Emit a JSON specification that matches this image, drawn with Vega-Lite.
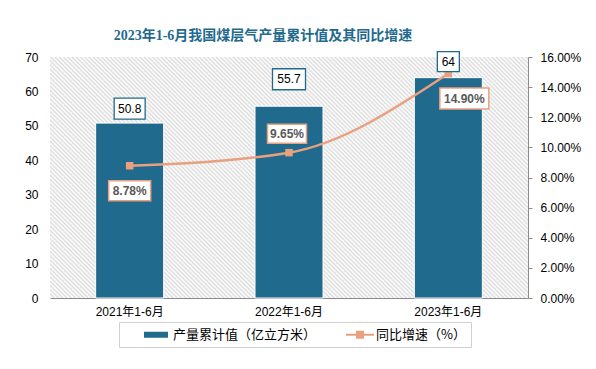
{
  "$schema": "https://vega.github.io/schema/vega-lite/v6.json",
  "width": 478,
  "height": 241,
  "autosize": {"type": "none"},
  "padding": {"left": 50, "top": 57, "right": 68, "bottom": 71},
  "background": "#ffffff",
  "title": {
    "text": "2023年1-6月我国煤层气产量累计值及其同比增速",
    "font": "Liberation Serif, Noto Sans CJK SC",
    "fontSize": 14,
    "fontWeight": "bold",
    "color": "#1F6A8D",
    "anchor": "middle",
    "frame": "group",
    "dx": -26,
    "dy": 21,
    "offset": 16,
    "baseline": "alphabetic"
  },
  "config": {
    "view": {"stroke": null},
    "font": "Liberation Sans, Noto Sans CJK SC",
    "axis": {"labelFont": "Liberation Sans, Noto Sans CJK SC", "labelColor": "#000000", "labelFontSize": 12}
  },
  "data": {
    "values": [
      {"period": "2021年1-6月", "output": 50.8, "growth": 8.78},
      {"period": "2022年1-6月", "output": 55.7, "growth": 9.65},
      {"period": "2023年1-6月", "output": 64, "growth": 14.9}
    ]
  },
  "layer": [
    {
      "transform": [{"filter": "datum.period === '2021年1-6月'"}],
      "mark": {
        "type": "rect",
        "fill": {
          "gradient": "linear",
          "x1": 0, "y1": 1, "x2": 1.415, "y2": 0.2864,
          "stops": [
{"offset":0,"color":"#dcdcdc"},{"offset":0.0025,"color":"#fff"},{"offset":0.005,"color":"#dcdcdc"},{"offset":0.0075,"color":"#fff"},
{"offset":0.01,"color":"#dcdcdc"},{"offset":0.0125,"color":"#fff"},{"offset":0.015,"color":"#dcdcdc"},{"offset":0.0175,"color":"#fff"},
{"offset":0.02,"color":"#dcdcdc"},{"offset":0.0225,"color":"#fff"},{"offset":0.025,"color":"#dcdcdc"},{"offset":0.0275,"color":"#fff"},
{"offset":0.03,"color":"#dcdcdc"},{"offset":0.0325,"color":"#fff"},{"offset":0.035,"color":"#dcdcdc"},{"offset":0.0375,"color":"#fff"},
{"offset":0.04,"color":"#dcdcdc"},{"offset":0.0425,"color":"#fff"},{"offset":0.045,"color":"#dcdcdc"},{"offset":0.0475,"color":"#fff"},
{"offset":0.05,"color":"#dcdcdc"},{"offset":0.0525,"color":"#fff"},{"offset":0.055,"color":"#dcdcdc"},{"offset":0.0575,"color":"#fff"},
{"offset":0.06,"color":"#dcdcdc"},{"offset":0.0625,"color":"#fff"},{"offset":0.065,"color":"#dcdcdc"},{"offset":0.0675,"color":"#fff"},
{"offset":0.07,"color":"#dcdcdc"},{"offset":0.0725,"color":"#fff"},{"offset":0.075,"color":"#dcdcdc"},{"offset":0.0775,"color":"#fff"},
{"offset":0.08,"color":"#dcdcdc"},{"offset":0.0825,"color":"#fff"},{"offset":0.085,"color":"#dcdcdc"},{"offset":0.0875,"color":"#fff"},
{"offset":0.09,"color":"#dcdcdc"},{"offset":0.0925,"color":"#fff"},{"offset":0.095,"color":"#dcdcdc"},{"offset":0.0975,"color":"#fff"},
{"offset":0.1,"color":"#dcdcdc"},{"offset":0.1025,"color":"#fff"},{"offset":0.105,"color":"#dcdcdc"},{"offset":0.1075,"color":"#fff"},
{"offset":0.11,"color":"#dcdcdc"},{"offset":0.1125,"color":"#fff"},{"offset":0.115,"color":"#dcdcdc"},{"offset":0.1175,"color":"#fff"},
{"offset":0.12,"color":"#dcdcdc"},{"offset":0.1225,"color":"#fff"},{"offset":0.125,"color":"#dcdcdc"},{"offset":0.1275,"color":"#fff"},
{"offset":0.13,"color":"#dcdcdc"},{"offset":0.1325,"color":"#fff"},{"offset":0.135,"color":"#dcdcdc"},{"offset":0.1375,"color":"#fff"},
{"offset":0.14,"color":"#dcdcdc"},{"offset":0.1425,"color":"#fff"},{"offset":0.145,"color":"#dcdcdc"},{"offset":0.1475,"color":"#fff"},
{"offset":0.15,"color":"#dcdcdc"},{"offset":0.1525,"color":"#fff"},{"offset":0.155,"color":"#dcdcdc"},{"offset":0.1575,"color":"#fff"},
{"offset":0.16,"color":"#dcdcdc"},{"offset":0.1625,"color":"#fff"},{"offset":0.165,"color":"#dcdcdc"},{"offset":0.1675,"color":"#fff"},
{"offset":0.17,"color":"#dcdcdc"},{"offset":0.1725,"color":"#fff"},{"offset":0.175,"color":"#dcdcdc"},{"offset":0.1775,"color":"#fff"},
{"offset":0.18,"color":"#dcdcdc"},{"offset":0.1825,"color":"#fff"},{"offset":0.185,"color":"#dcdcdc"},{"offset":0.1875,"color":"#fff"},
{"offset":0.19,"color":"#dcdcdc"},{"offset":0.1925,"color":"#fff"},{"offset":0.195,"color":"#dcdcdc"},{"offset":0.1975,"color":"#fff"},
{"offset":0.2,"color":"#dcdcdc"},{"offset":0.2025,"color":"#fff"},{"offset":0.205,"color":"#dcdcdc"},{"offset":0.2075,"color":"#fff"},
{"offset":0.21,"color":"#dcdcdc"},{"offset":0.2125,"color":"#fff"},{"offset":0.215,"color":"#dcdcdc"},{"offset":0.2175,"color":"#fff"},
{"offset":0.22,"color":"#dcdcdc"},{"offset":0.2225,"color":"#fff"},{"offset":0.225,"color":"#dcdcdc"},{"offset":0.2275,"color":"#fff"},
{"offset":0.23,"color":"#dcdcdc"},{"offset":0.2325,"color":"#fff"},{"offset":0.235,"color":"#dcdcdc"},{"offset":0.2375,"color":"#fff"},
{"offset":0.24,"color":"#dcdcdc"},{"offset":0.2425,"color":"#fff"},{"offset":0.245,"color":"#dcdcdc"},{"offset":0.2475,"color":"#fff"},
{"offset":0.25,"color":"#dcdcdc"},{"offset":0.2525,"color":"#fff"},{"offset":0.255,"color":"#dcdcdc"},{"offset":0.2575,"color":"#fff"},
{"offset":0.26,"color":"#dcdcdc"},{"offset":0.2625,"color":"#fff"},{"offset":0.265,"color":"#dcdcdc"},{"offset":0.2675,"color":"#fff"},
{"offset":0.27,"color":"#dcdcdc"},{"offset":0.2725,"color":"#fff"},{"offset":0.275,"color":"#dcdcdc"},{"offset":0.2775,"color":"#fff"},
{"offset":0.28,"color":"#dcdcdc"},{"offset":0.2825,"color":"#fff"},{"offset":0.285,"color":"#dcdcdc"},{"offset":0.2875,"color":"#fff"},
{"offset":0.29,"color":"#dcdcdc"},{"offset":0.2925,"color":"#fff"},{"offset":0.295,"color":"#dcdcdc"},{"offset":0.2975,"color":"#fff"},
{"offset":0.3,"color":"#dcdcdc"},{"offset":0.3025,"color":"#fff"},{"offset":0.305,"color":"#dcdcdc"},{"offset":0.3075,"color":"#fff"},
{"offset":0.31,"color":"#dcdcdc"},{"offset":0.3125,"color":"#fff"},{"offset":0.315,"color":"#dcdcdc"},{"offset":0.3175,"color":"#fff"},
{"offset":0.32,"color":"#dcdcdc"},{"offset":0.3225,"color":"#fff"},{"offset":0.325,"color":"#dcdcdc"},{"offset":0.3275,"color":"#fff"},
{"offset":0.33,"color":"#dcdcdc"},{"offset":0.3325,"color":"#fff"},{"offset":0.335,"color":"#dcdcdc"},{"offset":0.3375,"color":"#fff"},
{"offset":0.34,"color":"#dcdcdc"},{"offset":0.3425,"color":"#fff"},{"offset":0.345,"color":"#dcdcdc"},{"offset":0.3475,"color":"#fff"},
{"offset":0.35,"color":"#dcdcdc"},{"offset":0.3525,"color":"#fff"},{"offset":0.355,"color":"#dcdcdc"},{"offset":0.3575,"color":"#fff"},
{"offset":0.36,"color":"#dcdcdc"},{"offset":0.3625,"color":"#fff"},{"offset":0.365,"color":"#dcdcdc"},{"offset":0.3675,"color":"#fff"},
{"offset":0.37,"color":"#dcdcdc"},{"offset":0.3725,"color":"#fff"},{"offset":0.375,"color":"#dcdcdc"},{"offset":0.3775,"color":"#fff"},
{"offset":0.38,"color":"#dcdcdc"},{"offset":0.3825,"color":"#fff"},{"offset":0.385,"color":"#dcdcdc"},{"offset":0.3875,"color":"#fff"},
{"offset":0.39,"color":"#dcdcdc"},{"offset":0.3925,"color":"#fff"},{"offset":0.395,"color":"#dcdcdc"},{"offset":0.3975,"color":"#fff"},
{"offset":0.4,"color":"#dcdcdc"},{"offset":0.4025,"color":"#fff"},{"offset":0.405,"color":"#dcdcdc"},{"offset":0.4075,"color":"#fff"},
{"offset":0.41,"color":"#dcdcdc"},{"offset":0.4125,"color":"#fff"},{"offset":0.415,"color":"#dcdcdc"},{"offset":0.4175,"color":"#fff"},
{"offset":0.42,"color":"#dcdcdc"},{"offset":0.4225,"color":"#fff"},{"offset":0.425,"color":"#dcdcdc"},{"offset":0.4275,"color":"#fff"},
{"offset":0.43,"color":"#dcdcdc"},{"offset":0.4325,"color":"#fff"},{"offset":0.435,"color":"#dcdcdc"},{"offset":0.4375,"color":"#fff"},
{"offset":0.44,"color":"#dcdcdc"},{"offset":0.4425,"color":"#fff"},{"offset":0.445,"color":"#dcdcdc"},{"offset":0.4475,"color":"#fff"},
{"offset":0.45,"color":"#dcdcdc"},{"offset":0.4525,"color":"#fff"},{"offset":0.455,"color":"#dcdcdc"},{"offset":0.4575,"color":"#fff"},
{"offset":0.46,"color":"#dcdcdc"},{"offset":0.4625,"color":"#fff"},{"offset":0.465,"color":"#dcdcdc"},{"offset":0.4675,"color":"#fff"},
{"offset":0.47,"color":"#dcdcdc"},{"offset":0.4725,"color":"#fff"},{"offset":0.475,"color":"#dcdcdc"},{"offset":0.4775,"color":"#fff"},
{"offset":0.48,"color":"#dcdcdc"},{"offset":0.4825,"color":"#fff"},{"offset":0.485,"color":"#dcdcdc"},{"offset":0.4875,"color":"#fff"},
{"offset":0.49,"color":"#dcdcdc"},{"offset":0.4925,"color":"#fff"},{"offset":0.495,"color":"#dcdcdc"},{"offset":0.4975,"color":"#fff"},
{"offset":0.5,"color":"#dcdcdc"},{"offset":0.5025,"color":"#fff"},{"offset":0.505,"color":"#dcdcdc"},{"offset":0.5075,"color":"#fff"},
{"offset":0.51,"color":"#dcdcdc"},{"offset":0.5125,"color":"#fff"},{"offset":0.515,"color":"#dcdcdc"},{"offset":0.5175,"color":"#fff"},
{"offset":0.52,"color":"#dcdcdc"},{"offset":0.5225,"color":"#fff"},{"offset":0.525,"color":"#dcdcdc"},{"offset":0.5275,"color":"#fff"},
{"offset":0.53,"color":"#dcdcdc"},{"offset":0.5325,"color":"#fff"},{"offset":0.535,"color":"#dcdcdc"},{"offset":0.5375,"color":"#fff"},
{"offset":0.54,"color":"#dcdcdc"},{"offset":0.5425,"color":"#fff"},{"offset":0.545,"color":"#dcdcdc"},{"offset":0.5475,"color":"#fff"},
{"offset":0.55,"color":"#dcdcdc"},{"offset":0.5525,"color":"#fff"},{"offset":0.555,"color":"#dcdcdc"},{"offset":0.5575,"color":"#fff"},
{"offset":0.56,"color":"#dcdcdc"},{"offset":0.5625,"color":"#fff"},{"offset":0.565,"color":"#dcdcdc"},{"offset":0.5675,"color":"#fff"},
{"offset":0.57,"color":"#dcdcdc"},{"offset":0.5725,"color":"#fff"},{"offset":0.575,"color":"#dcdcdc"},{"offset":0.5775,"color":"#fff"},
{"offset":0.58,"color":"#dcdcdc"},{"offset":0.5825,"color":"#fff"},{"offset":0.585,"color":"#dcdcdc"},{"offset":0.5875,"color":"#fff"},
{"offset":0.59,"color":"#dcdcdc"},{"offset":0.5925,"color":"#fff"},{"offset":0.595,"color":"#dcdcdc"},{"offset":0.5975,"color":"#fff"},
{"offset":0.6,"color":"#dcdcdc"},{"offset":0.6025,"color":"#fff"},{"offset":0.605,"color":"#dcdcdc"},{"offset":0.6075,"color":"#fff"},
{"offset":0.61,"color":"#dcdcdc"},{"offset":0.6125,"color":"#fff"},{"offset":0.615,"color":"#dcdcdc"},{"offset":0.6175,"color":"#fff"},
{"offset":0.62,"color":"#dcdcdc"},{"offset":0.6225,"color":"#fff"},{"offset":0.625,"color":"#dcdcdc"},{"offset":0.6275,"color":"#fff"},
{"offset":0.63,"color":"#dcdcdc"},{"offset":0.6325,"color":"#fff"},{"offset":0.635,"color":"#dcdcdc"},{"offset":0.6375,"color":"#fff"},
{"offset":0.64,"color":"#dcdcdc"},{"offset":0.6425,"color":"#fff"},{"offset":0.645,"color":"#dcdcdc"},{"offset":0.6475,"color":"#fff"},
{"offset":0.65,"color":"#dcdcdc"},{"offset":0.6525,"color":"#fff"},{"offset":0.655,"color":"#dcdcdc"},{"offset":0.6575,"color":"#fff"},
{"offset":0.66,"color":"#dcdcdc"},{"offset":0.6625,"color":"#fff"},{"offset":0.665,"color":"#dcdcdc"},{"offset":0.6675,"color":"#fff"},
{"offset":0.67,"color":"#dcdcdc"},{"offset":0.6725,"color":"#fff"},{"offset":0.675,"color":"#dcdcdc"},{"offset":0.6775,"color":"#fff"},
{"offset":0.68,"color":"#dcdcdc"},{"offset":0.6825,"color":"#fff"},{"offset":0.685,"color":"#dcdcdc"},{"offset":0.6875,"color":"#fff"},
{"offset":0.69,"color":"#dcdcdc"},{"offset":0.6925,"color":"#fff"},{"offset":0.695,"color":"#dcdcdc"},{"offset":0.6975,"color":"#fff"},
{"offset":0.7,"color":"#dcdcdc"},{"offset":0.7025,"color":"#fff"},{"offset":0.705,"color":"#dcdcdc"},{"offset":0.7075,"color":"#fff"},
{"offset":0.71,"color":"#dcdcdc"},{"offset":0.7125,"color":"#fff"},{"offset":0.715,"color":"#dcdcdc"},{"offset":0.7175,"color":"#fff"},
{"offset":0.72,"color":"#dcdcdc"},{"offset":0.7225,"color":"#fff"},{"offset":0.725,"color":"#dcdcdc"},{"offset":0.7275,"color":"#fff"},
{"offset":0.73,"color":"#dcdcdc"},{"offset":0.7325,"color":"#fff"},{"offset":0.735,"color":"#dcdcdc"},{"offset":0.7375,"color":"#fff"},
{"offset":0.74,"color":"#dcdcdc"},{"offset":0.7425,"color":"#fff"},{"offset":0.745,"color":"#dcdcdc"},{"offset":0.7475,"color":"#fff"},
{"offset":0.75,"color":"#dcdcdc"},{"offset":0.7525,"color":"#fff"},{"offset":0.755,"color":"#dcdcdc"},{"offset":0.7575,"color":"#fff"},
{"offset":0.76,"color":"#dcdcdc"},{"offset":0.7625,"color":"#fff"},{"offset":0.765,"color":"#dcdcdc"},{"offset":0.7675,"color":"#fff"},
{"offset":0.77,"color":"#dcdcdc"},{"offset":0.7725,"color":"#fff"},{"offset":0.775,"color":"#dcdcdc"},{"offset":0.7775,"color":"#fff"},
{"offset":0.78,"color":"#dcdcdc"},{"offset":0.7825,"color":"#fff"},{"offset":0.785,"color":"#dcdcdc"},{"offset":0.7875,"color":"#fff"},
{"offset":0.79,"color":"#dcdcdc"},{"offset":0.7925,"color":"#fff"},{"offset":0.795,"color":"#dcdcdc"},{"offset":0.7975,"color":"#fff"},
{"offset":0.8,"color":"#dcdcdc"},{"offset":0.8025,"color":"#fff"},{"offset":0.805,"color":"#dcdcdc"},{"offset":0.8075,"color":"#fff"},
{"offset":0.81,"color":"#dcdcdc"},{"offset":0.8125,"color":"#fff"},{"offset":0.815,"color":"#dcdcdc"},{"offset":0.8175,"color":"#fff"},
{"offset":0.82,"color":"#dcdcdc"},{"offset":0.8225,"color":"#fff"},{"offset":0.825,"color":"#dcdcdc"},{"offset":0.8275,"color":"#fff"},
{"offset":0.83,"color":"#dcdcdc"},{"offset":0.8325,"color":"#fff"},{"offset":0.835,"color":"#dcdcdc"},{"offset":0.8375,"color":"#fff"},
{"offset":0.84,"color":"#dcdcdc"},{"offset":0.8425,"color":"#fff"},{"offset":0.845,"color":"#dcdcdc"},{"offset":0.8475,"color":"#fff"},
{"offset":0.85,"color":"#dcdcdc"},{"offset":0.8525,"color":"#fff"},{"offset":0.855,"color":"#dcdcdc"},{"offset":0.8575,"color":"#fff"},
{"offset":0.86,"color":"#dcdcdc"},{"offset":0.8625,"color":"#fff"},{"offset":0.865,"color":"#dcdcdc"},{"offset":0.8675,"color":"#fff"},
{"offset":0.87,"color":"#dcdcdc"},{"offset":0.8725,"color":"#fff"},{"offset":0.875,"color":"#dcdcdc"},{"offset":0.8775,"color":"#fff"},
{"offset":0.88,"color":"#dcdcdc"},{"offset":0.8825,"color":"#fff"},{"offset":0.885,"color":"#dcdcdc"},{"offset":0.8875,"color":"#fff"},
{"offset":0.89,"color":"#dcdcdc"},{"offset":0.8925,"color":"#fff"},{"offset":0.895,"color":"#dcdcdc"},{"offset":0.8975,"color":"#fff"},
{"offset":0.9,"color":"#dcdcdc"},{"offset":0.9025,"color":"#fff"},{"offset":0.905,"color":"#dcdcdc"},{"offset":0.9075,"color":"#fff"},
{"offset":0.91,"color":"#dcdcdc"},{"offset":0.9125,"color":"#fff"},{"offset":0.915,"color":"#dcdcdc"},{"offset":0.9175,"color":"#fff"},
{"offset":0.92,"color":"#dcdcdc"},{"offset":0.9225,"color":"#fff"},{"offset":0.925,"color":"#dcdcdc"},{"offset":0.9275,"color":"#fff"},
{"offset":0.93,"color":"#dcdcdc"},{"offset":0.9325,"color":"#fff"},{"offset":0.935,"color":"#dcdcdc"},{"offset":0.9375,"color":"#fff"},
{"offset":0.94,"color":"#dcdcdc"},{"offset":0.9425,"color":"#fff"},{"offset":0.945,"color":"#dcdcdc"},{"offset":0.9475,"color":"#fff"},
{"offset":0.95,"color":"#dcdcdc"},{"offset":0.9525,"color":"#fff"},{"offset":0.955,"color":"#dcdcdc"},{"offset":0.9575,"color":"#fff"},
{"offset":0.96,"color":"#dcdcdc"},{"offset":0.9625,"color":"#fff"},{"offset":0.965,"color":"#dcdcdc"},{"offset":0.9675,"color":"#fff"},
{"offset":0.97,"color":"#dcdcdc"},{"offset":0.9725,"color":"#fff"},{"offset":0.975,"color":"#dcdcdc"},{"offset":0.9775,"color":"#fff"},
{"offset":0.98,"color":"#dcdcdc"},{"offset":0.9825,"color":"#fff"},{"offset":0.985,"color":"#dcdcdc"},{"offset":0.9875,"color":"#fff"},
{"offset":0.99,"color":"#dcdcdc"},{"offset":0.9925,"color":"#fff"},{"offset":0.995,"color":"#dcdcdc"},{"offset":0.9975,"color":"#fff"},
{"offset":1,"color":"#dcdcdc"}
          ]
        }
      },
      "encoding": {}
    },
    {
      "mark": {"type": "bar", "size": 68, "stroke": "#ffffff", "strokeWidth": 1},
      "encoding": {
        "x": {"field": "period", "type": "nominal", "sort": null, "title": null,
              "scale": {"paddingInner": 0, "paddingOuter": 0},
              "axis": {"labelAngle": 0, "ticks": false, "tickSize": 0, "labelPadding": 8, "domainColor": "#8C8C8C", "domainWidth": 1}},
        "y": {"field": "output", "type": "quantitative", "title": null,
              "scale": {"domain": [0, 70]},
              "axis": {"values": [0, 10, 20, 30, 40, 50, 60, 70], "grid": false, "domain": false, "ticks": false, "tickSize": 0, "labelPadding": 12}},
        "color": {
          "datum": "产量累计值（亿立方米）",
          "scale": {"domain": ["产量累计值（亿立方米）", "同比增速（%）"], "range": ["#1F6A8D", "#E9A07F"]},
          "legend": {
            "title": null,
            "orient": "none",
            "legendX": 69,
            "legendY": 265,
            "direction": "horizontal",
            "padding": 5,
            "strokeColor": "#D0D0D0",
            "fillColor": "#ffffff",
            "symbolSize": 225,
            "symbolType": {"expr": "datum.value === '同比增速（%）' ? 'M1.53,-0.14H5.27V0.14H1.53Z M2.87,-0.53H3.93V0.53H2.87Z' : 'M1.67,-0.4H4.87V0.4H1.67Z'"},
            "symbolStrokeWidth": 0,
            "symbolOpacity": 1,
            "labelOffset": 34,
            "columnPadding": 10,
            "labelFontSize": 13,
            "labelFont": "Noto Sans CJK SC",
            "labelColor": "#000000",
            "encode": {
              "symbols": {
                "update": {
                  "shape": {"signal": "datum.value === '同比增速（%）' ? 'M1.53,-0.14H5.27V0.14H1.53Z M2.87,-0.53H3.93V0.53H2.87Z' : 'M1.67,-0.4H4.87V0.4H1.67Z'"},
                  "fill": {"signal": "datum.value === '同比增速（%）' ? '#E9A07F' : '#1F6A8D'"},
                  "fillOpacity": {"value": 1},
                  "opacity": {"value": 1},
                  "strokeWidth": {"value": 0}
                }
              }
            }
          }
        }
      }
    },
    {
      "encoding": {
        "x": {"field": "period", "type": "nominal", "sort": null, "title": null,
              "scale": {"paddingInner": 0, "paddingOuter": 0},
              "axis": {"labelAngle": 0, "ticks": false, "tickSize": 0, "labelPadding": 8, "domainColor": "#8C8C8C", "domainWidth": 1}},
        "y": {"field": "growth", "type": "quantitative", "title": null,
              "scale": {"domain": [0, 16]},
              "axis": {"orient": "right", "values": [0, 2, 4, 6, 8, 10, 12, 14, 16], "grid": false,
                       "domainColor": "#8C8C8C", "tickColor": "#8C8C8C", "tickSize": 4, "labelPadding": 8,
                       "labelExpr": "format(datum.value, '.2f') + '%'"}}
      },
      "layer": [
        {
          "mark": {"type": "line", "interpolate": "monotone", "strokeWidth": 2.5},
          "encoding": {
            "color": {
              "datum": "同比增速（%）",
              "scale": {"domain": ["产量累计值（亿立方米）", "同比增速（%）"], "range": ["#1F6A8D", "#E9A07F"]}
            }
          }
        },
        {
          "mark": {"type": "point", "shape": "square", "filled": true, "size": 56, "color": "#E9A07F", "opacity": 1}
        },
        {
          "transform": [{"filter": "datum.period === '2021年1-6月'"}, {"calculate": "format(datum.growth, '.2f') + '%'", "as": "pct"}],
          "layer": [
            {"mark": {"type": "point", "shape": "M-2.1,-1H2.1V1H-2.1Z", "size": 400, "filled": true, "fill": "#ffffff", "stroke": "#E9A07F", "strokeWidth": 1.5, "opacity": 1, "yOffset": 25}},
            {"mark": {"type": "text", "yOffset": 25, "fontSize": 12, "fontWeight": "bold", "color": "#595959"}, "encoding": {"text": {"field": "pct"}}}
          ]
        },
        {
          "transform": [{"filter": "datum.period === '2022年1-6月'"}, {"calculate": "format(datum.growth, '.2f') + '%'", "as": "pct"}],
          "layer": [
            {"mark": {"type": "point", "shape": "M-1.95,-0.95H1.95V0.95H-1.95Z", "size": 400, "filled": true, "fill": "#ffffff", "stroke": "#E9A07F", "strokeWidth": 1.5, "opacity": 1, "yOffset": -19, "xOffset": -2}},
            {"mark": {"type": "text", "yOffset": -19, "xOffset": -2, "fontSize": 12, "fontWeight": "bold", "color": "#595959"}, "encoding": {"text": {"field": "pct"}}}
          ]
        },
        {
          "transform": [{"filter": "datum.period === '2023年1-6月'"}, {"calculate": "format(datum.growth, '.2f') + '%'", "as": "pct"}],
          "layer": [
            {"mark": {"type": "point", "shape": "M-2.45,-1.05H2.45V1.05H-2.45Z", "size": 400, "filled": true, "fill": "#ffffff", "stroke": "#E9A07F", "strokeWidth": 1.5, "opacity": 1, "yOffset": 25, "xOffset": 16}},
            {"mark": {"type": "text", "yOffset": 25, "xOffset": 16, "fontSize": 12, "fontWeight": "bold", "color": "#595959"}, "encoding": {"text": {"field": "pct"}}}
          ]
        }
      ]
    },
    {
      "encoding": {
        "x": {"field": "period", "type": "nominal", "sort": null, "title": null,
              "scale": {"paddingInner": 0, "paddingOuter": 0},
              "axis": {"labelAngle": 0, "ticks": false, "tickSize": 0, "labelPadding": 8, "domainColor": "#8C8C8C", "domainWidth": 1}},
        "y": {"field": "output", "type": "quantitative", "title": null, "scale": {"domain": [0, 70]}, "axis": null}
      },
      "layer": [
        {
          "transform": [{"filter": "datum.period === '2021年1-6月'"}],
          "layer": [
            {"mark": {"type": "point", "shape": "M-1.476,-1H1.476V1H-1.476Z", "size": 441, "filled": true, "fill": "#ffffff", "stroke": "#1F6A8D", "strokeWidth": 1.3, "opacity": 1, "yOffset": -14.5}},
            {"mark": {"type": "text", "yOffset": -14.5, "fontSize": 12, "color": "#000000"}, "encoding": {"text": {"field": "output"}}}
          ]
        },
        {
          "transform": [{"filter": "datum.period === '2022年1-6月'"}],
          "layer": [
            {"mark": {"type": "point", "shape": "M-1.571,-1H1.571V1H-1.571Z", "size": 441, "filled": true, "fill": "#ffffff", "stroke": "#1F6A8D", "strokeWidth": 1.3, "opacity": 1, "yOffset": -27}},
            {"mark": {"type": "text", "yOffset": -27, "fontSize": 12, "color": "#000000"}, "encoding": {"text": {"field": "output"}}}
          ]
        },
        {
          "transform": [{"filter": "datum.period === '2023年1-6月'"}],
          "layer": [
            {"mark": {"type": "point", "shape": "M-1.048,-0.952H1.048V0.952H-1.048Z", "size": 441, "filled": true, "fill": "#ffffff", "stroke": "#1F6A8D", "strokeWidth": 1.3, "opacity": 1, "yOffset": -16}},
            {"mark": {"type": "text", "yOffset": -16, "fontSize": 12, "color": "#000000"}, "encoding": {"text": {"field": "output"}}}
          ]
        }
      ]
    }
  ],
  "resolve": {"scale": {"y": "independent"}}
}
